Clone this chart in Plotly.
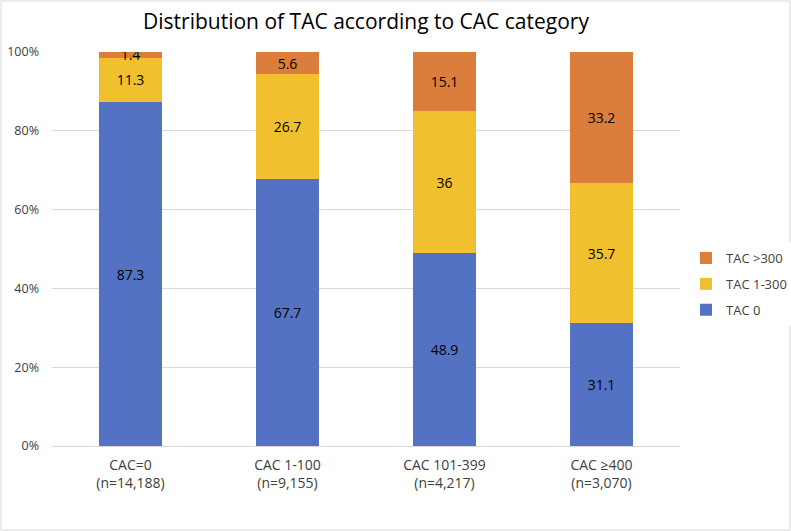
import plotly.graph_objects as go

categories = ["CAC=0<br>(n=14,188)", "CAC 1-100<br>(n=9,155)", "CAC 101-399<br>(n=4,217)", "CAC \u2265400<br>(n=3,070)"]
tac0 = [87.3, 67.7, 48.9, 31.1]
tac1_300 = [11.3, 26.7, 36, 35.7]
tac300 = [1.4, 5.6, 15.1, 33.2]
series_names = ["TAC 0", "TAC 1-300", "TAC >300"]
colors = ["#5472C4", "#F1C02E", "#DB7E3B"]
yticks = [0, 20, 40, 60, 80, 100]
ytick_labels = ["0%", "20%", "40%", "60%", "80%", "100%"]

FONT = "Open Sans, Liberation Sans, sans-serif"

fig = go.Figure()
for i, (name, vals, col) in enumerate(zip(series_names, [tac0, tac1_300, tac300], colors)):
    fig.add_trace(go.Bar(
        x=categories, y=vals, name=name, legendgroup=name, legendrank=10 - i,
        marker=dict(color=col, line=dict(width=0)),
        text=[f"{v:g}" for v in vals], textposition="inside", insidetextanchor="middle",
        textfont=dict(color="#000000", size=14, family=FONT),
        insidetextfont=dict(color="#000000", size=14, family=FONT),
        textangle=0,
    ))

W, H = 791, 531
ml, mr, mt, mb = 52, 111, 52, 85
pw = W - ml - mr
ph = H - mt - mb
fig.update_layout(
    width=W, height=H, barmode="stack", bargap=0.6,
    margin=dict(l=ml, r=mr, t=mt, b=mb, autoexpand=False),
    paper_bgcolor="white", plot_bgcolor="white",
    font=dict(family=FONT, color="#404040", size=12),
    title=dict(text="Distribution of TAC according to CAC category", x=0.5, xref="paper",
               xanchor="center", y=1 - 22 / H, yanchor="middle",
               font=dict(size=21, color="#000000", family=FONT)),
    legend=dict(traceorder="grouped", x=(686 - ml) / pw, xanchor="left",
                y=(H - mb - 284) / ph, yanchor="middle",
                font=dict(size=13, color="#404040"), itemwidth=30, tracegroupgap=6),
    uniformtext=dict(minsize=14, mode="show"),
    xaxis=dict(showline=True, linecolor="#D9D9D9", linewidth=1, ticks="", automargin=False,
               ticklabelstandoff=6,
               tickfont=dict(size=14, color="#404040")),
    yaxis=dict(range=[0, 100], tickvals=yticks, ticktext=ytick_labels, showgrid=True,
               gridcolor="#D9D9D9", gridwidth=1, zeroline=False, ticks="", automargin=False,
               ticklabelstandoff=12,
               tickfont=dict(size=12.5, color="#404040")),
)
# chart border
fig.add_shape(type="rect", xref="paper", yref="paper",
              x0=(-ml + 1) / pw, x1=(W - ml - 1) / pw,
              y0=(-mb + 1) / ph, y1=(H - mb - 1) / ph,
              line=dict(color="#D9D9D9", width=1), layer="below")
fig.write_html("out.html", config={"displayModeBar": False},
               post_script="document.body.style.margin='0';document.body.style.overflow='hidden';")
